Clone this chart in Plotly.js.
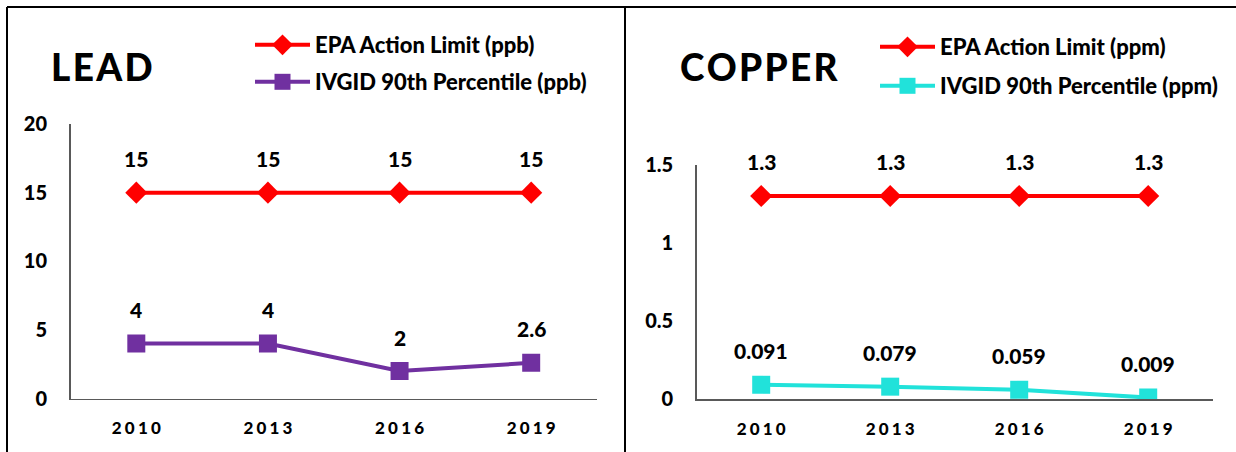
<!DOCTYPE html>
<html>
<head>
<meta charset="utf-8">
<script src="https://cdn.plot.ly/plotly-3.0.1.min.js"></script>
<style>html,body{margin:0;padding:0;background:#fff;}#chart{width:1236px;height:452px;}</style>
</head>
<body>
<div id="chart"></div>
<script>
// ---- data ----
const years = ["2010", "2013", "2016", "2019"];
const leadLimit = [15, 15, 15, 15];
const leadIVGID = [4, 4, 2, 2.6];
const copperLimit = [1.3, 1.3, 1.3, 1.3];
const copperIVGID = [0.091, 0.079, 0.059, 0.009];
const leadNames = ["EPA Action Limit (ppb)", "IVGID 90th Percentile (ppb)"];
const copperNames = ["EPA Action Limit (ppm)", "IVGID 90th Percentile (ppm)"];
const panelTitles = ["LEAD", "COPPER"];
const leadTicks = [0, 5, 10, 15, 20];
const copperTicks = [0, 0.5, 1, 1.5];
const copperTickText = ["0", "0.5", "1", "1.5"];

const RED = "#FF0000", PURPLE = "#7030A0", CYAN = "#21E2DA";
const FONT = "Lato, 'Open Sans', sans-serif";
const W = 900;
const spaced = (s, sp) => s.split("").join(sp);

const traces = [
  {x: years, y: leadLimit, name: leadNames[0], xaxis: "x", yaxis: "y", mode: "lines+markers",
   line: {color: RED, width: 4}, marker: {symbol: "diamond", size: 17, color: RED}, legend: "legend"},
  {x: years, y: leadIVGID, name: leadNames[1], xaxis: "x", yaxis: "y", mode: "lines+markers",
   line: {color: PURPLE, width: 4}, marker: {symbol: "square", size: 18, color: PURPLE}, legend: "legend2"},
  {x: years, y: copperLimit, name: copperNames[0], xaxis: "x2", yaxis: "y2", mode: "lines+markers",
   line: {color: RED, width: 4}, marker: {symbol: "diamond", size: 17, color: RED}, legend: "legend3"},
  {x: years, y: copperIVGID, name: copperNames[1], xaxis: "x2", yaxis: "y2", mode: "lines+markers",
   line: {color: CYAN, width: 4}, marker: {symbol: "square", size: 18, color: CYAN}, legend: "legend4"}
];

const labelFont = {family: FONT, size: 21, color: "#000", weight: W};
const annotations = [];
function addLabels(vals, xa, ya) {
  vals.forEach((v, i) => annotations.push({x: i, y: v, xref: xa, yref: ya, text: String(v),
    showarrow: false, yshift: 34, font: labelFont}));
}
addLabels(leadLimit, "x", "y");
addLabels(leadIVGID, "x", "y");
addLabels(copperLimit, "x2", "y2");
addLabels(copperIVGID, "x2", "y2");
const titleFont = {family: FONT, size: 37, color: "#000", weight: W};
annotations.push({xref: "paper", yref: "paper", x: 49/1236, y: 1 - 66/452, xanchor: "left", yanchor: "middle",
  text: spaced(panelTitles[0], "\u200A"), showarrow: false, font: titleFont});
annotations.push({xref: "paper", yref: "paper", x: 678/1236, y: 1 - 66/452, xanchor: "left", yanchor: "middle",
  text: spaced(panelTitles[1], "\u200A"), showarrow: false, font: titleFont});

const legFont = {family: FONT, size: 22, color: "#000", weight: W};
function leg(px, py) {
  return {x: px/1236, y: 1 - py/452, xanchor: "left", yanchor: "middle", font: legFont,
    bgcolor: "rgba(0,0,0,0)", borderwidth: 0, itemwidth: 55, orientation: "v"};
}

const axisLine = {showline: true, linecolor: "#595959", linewidth: 1.5, showgrid: false, zeroline: false, ticks: ""};
const tickFont = {family: FONT, size: 20, color: "#000", weight: W};
const xTickFont = {family: FONT, size: 17, color: "#000", weight: W};
const xSpace = "\u2009\u200A";

const layout = {
  width: 1236, height: 452,
  margin: {l: 0, r: 0, t: 0, b: 0},
  paper_bgcolor: "#fff", plot_bgcolor: "rgba(0,0,0,0)",
  showlegend: true,
  xaxis: Object.assign({}, axisLine, {domain: [70.5/1236, 597/1236], anchor: "y", type: "category",
    range: [-0.5, 3.5], tickvals: years, ticktext: years.map(s => spaced(s, xSpace)), tickfont: xTickFont, ticklabelstandoff: 14}),
  yaxis: Object.assign({}, axisLine, {domain: [53.5/452, 328/452], anchor: "x", range: [0, 20],
    tickvals: leadTicks, tickfont: tickFont, ticklabelstandoff: 18}),
  xaxis2: Object.assign({}, axisLine, {domain: [696.7/1236, 1212.7/1236], anchor: "y2", type: "category",
    range: [-0.5, 3.5], tickvals: years, ticktext: years.map(s => spaced(s, xSpace)), tickfont: xTickFont, ticklabelstandoff: 14}),
  yaxis2: Object.assign({}, axisLine, {domain: [53/452, 287.3/452], anchor: "x2", range: [0, 1.5],
    tickvals: copperTicks, ticktext: copperTickText, tickfont: tickFont, ticklabelstandoff: 18}),
  legend: leg(250, 45),
  legend2: leg(250, 82),
  legend3: leg(875, 47),
  legend4: leg(875, 86),
  annotations: annotations,
  shapes: [
    {type: "line", xref: "paper", yref: "paper", x0: 7/1236, x1: 1, y0: 1 - 7/452, y1: 1 - 7/452, line: {color: "#000", width: 2}},
    {type: "line", xref: "paper", yref: "paper", x0: 7/1236, x1: 7/1236, y0: 0, y1: 1 - 7/452, line: {color: "#000", width: 2}},
    {type: "line", xref: "paper", yref: "paper", x0: 625/1236, x1: 625/1236, y0: 0, y1: 1 - 7/452, line: {color: "#000", width: 2}}
  ]
};

Plotly.newPlot("chart", traces, layout, {staticPlot: true, displayModeBar: false});
</script>
</body>
</html>
